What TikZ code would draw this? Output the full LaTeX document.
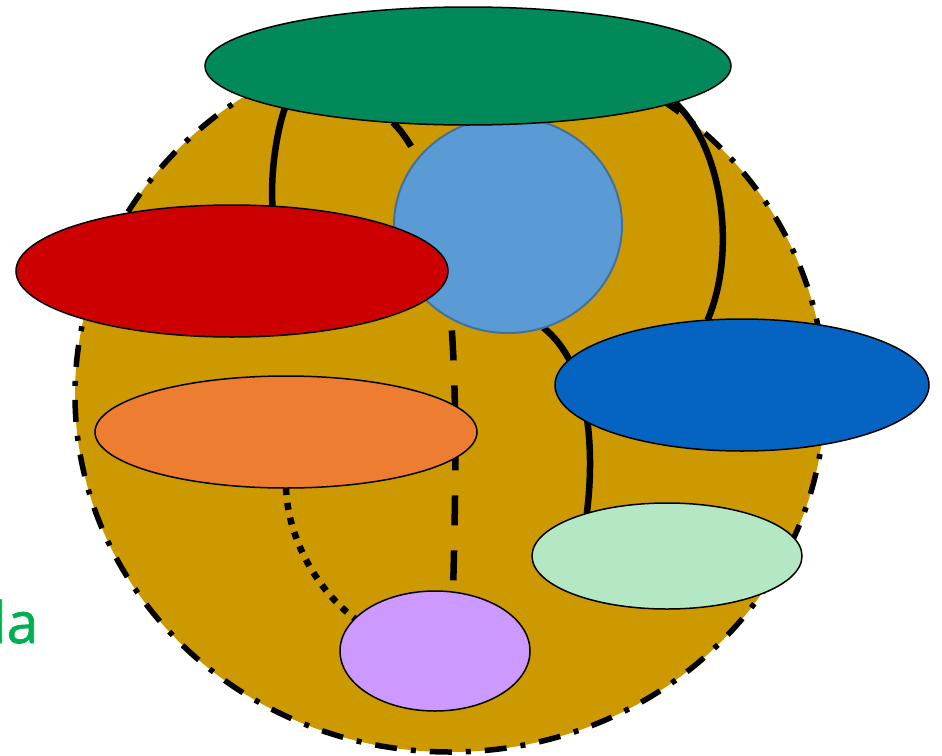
\documentclass[tikz,border=0pt]{standalone}
\usepackage{fontspec}
\newfontfamily\labelfont[FakeBold=1.2]{Open Sans}
\usetikzlibrary{shapes.geometric}
\pgfdeclarelayer{ringlayer}
\pgfdeclarelayer{linklayer}
\pgfsetlayers{ringlayer,linklayer,main}
\definecolor{ringgold}{RGB}{204,153,0}
\definecolor{topgreen}{RGB}{2,137,90}
\definecolor{skyblue}{RGB}{91,155,213}
\definecolor{skyedge}{RGB}{65,113,156}
\definecolor{redfill}{RGB}{204,0,0}
\definecolor{bluefill}{RGB}{5,99,193}
\definecolor{orangefill}{RGB}{237,125,49}
\definecolor{mintfill}{RGB}{180,232,196}
\definecolor{lilacfill}{RGB}{204,153,255}
\definecolor{labelgreen}{RGB}{0,176,80}
\tikzset{
  blob/.style={ellipse, draw=black, line width=1.5, inner sep=0, outer sep=0},
  solidlink/.style={line width=6.5, draw=black},
  dashlink/.style={line width=6.5, draw=black, dash pattern=on 30pt off 25pt},
  dotlink/.style={line width=6.5, draw=black, dash pattern=on 7pt off 8pt},
}
\begin{document}
\begin{tikzpicture}[x=1pt,y=-1pt]
\useasboundingbox (0,0) rectangle (942,755);
% nodes
\node[blob, draw=skyedge, line width=2, fill=skyblue, minimum width=228, minimum height=216] (sky) at (508,225) {};
\node[blob, fill=topgreen, minimum width=526, minimum height=118] (top) at (468,66) {};
\node[blob, fill=redfill, minimum width=432, minimum height=132] (red) at (232,271) {};
\node[blob, fill=bluefill, minimum width=374, minimum height=132] (blue) at (742,385) {};
\node[blob, fill=orangefill, minimum width=382, minimum height=112] (orange) at (286,432) {};
\node[blob, fill=mintfill, minimum width=270, minimum height=106] (mint) at (667,556) {};
\node[blob, fill=lilacfill, minimum width=190, minimum height=120] (lilac) at (435,651) {};
\node[font=\fontsize{57}{60}\selectfont\labelfont, text=labelgreen, anchor=base east, inner sep=0] (lbl) at (38.5,643) {la};
% big ring
\begin{pgfonlayer}{ringlayer}
\node[ellipse, fill=ringgold, draw=black, line width=5.5, inner sep=0, outer sep=0,
      dash pattern=on 22pt off 14pt on 5pt off 14pt,
      minimum width=750, minimum height=714] (ring) at (450,395) {};
\end{pgfonlayer}
% connectors
\begin{pgfonlayer}{linklayer}
\draw[solidlink] (top.193) .. controls +(-9,27) and +(-2,-31) .. (red.58);
\draw[dashlink] (top.217) .. controls +(68,67) and +(5,-192) .. (lilac.73);
\draw[solidlink] (top.350) .. controls +(47,43) and +(30,-70) .. (blue.118);
\draw[solidlink] (sky.289) .. controls +(47,37) and +(8,-63) .. (mint.152);
\draw[dotlink] (orange.270) .. controls +(2,52) and +(-37,-28) .. (lilac.158);
\end{pgfonlayer}
\end{tikzpicture}
\end{document}
